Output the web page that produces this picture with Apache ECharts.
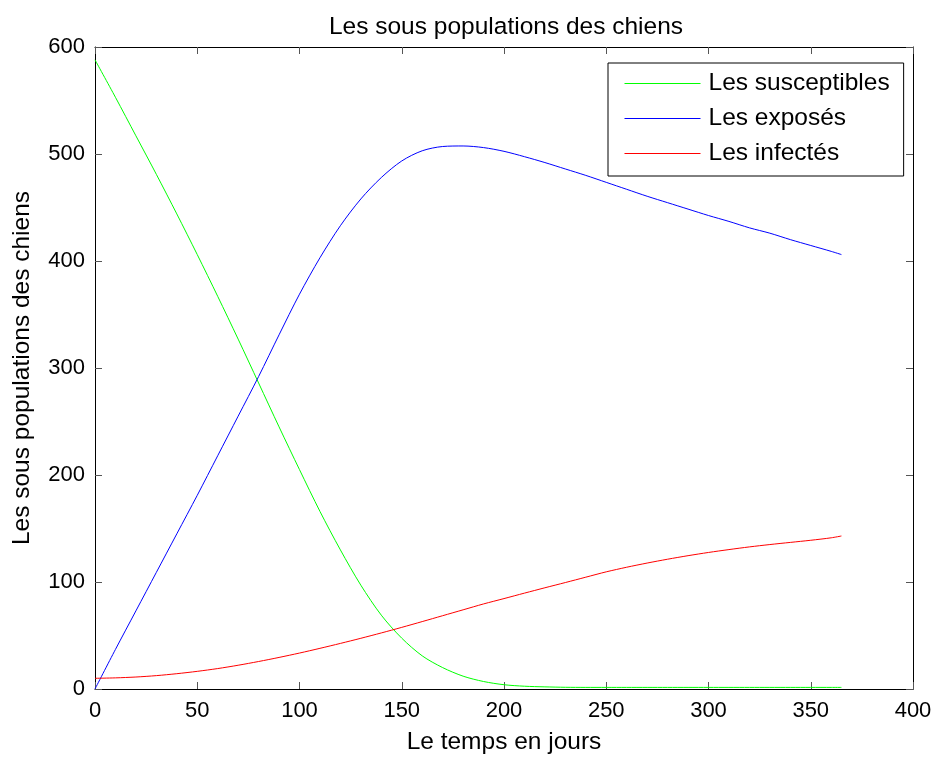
<!DOCTYPE html>
<html>
<head>
<meta charset="utf-8">
<script src="https://cdn.jsdelivr.net/npm/echarts@6/dist/echarts.min.js"></script>
<style>
  html, body { margin: 0; padding: 0; background: #fff; }
  #chart { width: 939px; height: 760px; }
</style>
</head>
<body>
<div id="chart"></div>
<script>
// Days sampled along the simulation (0 to 365)
const days = [0, 10, 20, 30, 40, 50, 60, 70, 80, 90, 100, 110, 120, 130, 140, 150, 160, 170, 180, 190, 200, 210, 220, 230, 240, 250, 260, 270, 280, 290, 300, 310, 320, 330, 340, 350, 360, 365];

// Susceptible dogs
const susceptibles = [588, 553, 517, 481, 444, 406, 367, 327, 286, 245, 205, 166, 130, 97, 69, 47.5, 31, 20, 12, 7, 4, 2.6, 2, 1.6, 1.5, 1.5, 1.5, 1.5, 1.5, 1.5, 1.5, 1.5, 1.5, 1.5, 1.5, 1.5, 1.5, 1.5];

// Exposed dogs
const exposes = [0, 37, 73, 109, 145, 181, 218, 255, 292, 331, 369, 403, 433, 458, 478, 493.5, 503, 507, 507.5, 506, 502.5, 497.5, 492, 486, 480, 473.5, 467, 460.5, 454.5, 448.5, 442.5, 437, 431, 426, 420, 414.5, 409, 406];

// Infected dogs
const infectes = [10, 10.4, 11.2, 12.5, 14.3, 16.5, 19.1, 22.2, 25.7, 29.5, 33.6, 38, 42.6, 47.4, 52.4, 57.6, 63, 68.5, 74, 79.5, 84.5, 89.6, 94.6, 99.5, 104.5, 109.5, 113.8, 117.7, 121.3, 124.6, 127.6, 130.3, 132.8, 135, 137, 139, 141.3, 143];

const xTicks = [0, 50, 100, 150, 200, 250, 300, 350, 400];
const yTicks = [0, 100, 200, 300, 400, 500, 600];

const seriesNames = ['Les susceptibles', 'Les exposés', 'Les infectés'];
const seriesColors = ['#00ff00', '#0000ff', '#ff0000'];

const FONT = 'Liberation Sans, Arial, Helvetica, sans-serif';
const TEXT_SIZE = 24.5;
const TICK_SIZE = 22;

function pairs(values) {
  return days.map((d, i) => [d, values[i]]);
}

const chart = echarts.init(document.getElementById('chart'), null, { renderer: 'canvas' });

const tickStyle = { show: true, inside: true, length: 7, lineStyle: { color: '#555', width: 1 } };
const lineStyleAxis = { show: true, onZero: false, lineStyle: { color: '#000', width: 1 } };

chart.setOption({
  backgroundColor: '#ffffff',
  animation: false,
  color: seriesColors,
  title: {
    text: 'Les sous populations des chiens',
    left: 501,
    textAlign: 'center',
    top: 10,
    textStyle: { fontFamily: FONT, fontSize: TEXT_SIZE, fontWeight: 'normal', color: '#000' }
  },
  grid: { left: 95, top: 47, right: 26, bottom: 68, containLabel: false },
  legend: {
    data: seriesNames,
    orient: 'vertical',
    left: 608,
    top: 63,
    padding: [8, 14, 10, 16],
    itemWidth: 76,
    itemHeight: 25,
    itemGap: 10,
    // only the line sample is shown for each entry, no marker
    itemStyle: { opacity: 0 },
    lineStyle: { width: 1 },
    borderColor: '#000',
    borderWidth: 1,
    backgroundColor: '#fff',
    textStyle: { fontFamily: FONT, fontSize: TEXT_SIZE, lineHeight: 25, color: '#000', padding: [0, 0, 0, 3] }
  },
  xAxis: [
    {
      type: 'value',
      min: xTicks[0],
      max: xTicks[xTicks.length - 1],
      interval: xTicks[1] - xTicks[0],
      position: 'bottom',
      name: 'Le temps en jours',
      nameLocation: 'middle',
      nameGap: 41,
      nameTextStyle: { fontFamily: FONT, fontSize: TEXT_SIZE, color: '#000' },
      axisLine: lineStyleAxis,
      axisTick: tickStyle,
      axisLabel: { fontFamily: FONT, fontSize: TICK_SIZE, color: '#000', margin: 11 },
      splitLine: { show: false }
    },
    {
      type: 'value',
      min: xTicks[0],
      max: xTicks[xTicks.length - 1],
      interval: xTicks[1] - xTicks[0],
      position: 'top',
      axisLine: lineStyleAxis,
      axisTick: tickStyle,
      axisLabel: { show: false },
      splitLine: { show: false }
    }
  ],
  yAxis: [
    {
      type: 'value',
      min: yTicks[0],
      max: yTicks[yTicks.length - 1],
      interval: yTicks[1] - yTicks[0],
      position: 'left',
      name: 'Les sous populations des chiens',
      nameLocation: 'middle',
      nameGap: 60,
      nameTextStyle: { fontFamily: FONT, fontSize: TEXT_SIZE, color: '#000' },
      axisLine: lineStyleAxis,
      axisTick: tickStyle,
      axisLabel: { fontFamily: FONT, fontSize: TICK_SIZE, color: '#000', margin: 10 },
      splitLine: { show: false }
    },
    {
      type: 'value',
      min: yTicks[0],
      max: yTicks[yTicks.length - 1],
      interval: yTicks[1] - yTicks[0],
      position: 'right',
      axisLine: lineStyleAxis,
      axisTick: tickStyle,
      axisLabel: { show: false },
      splitLine: { show: false }
    }
  ],
  series: [susceptibles, exposes, infectes].map((vals, i) => ({
    name: seriesNames[i],
    type: 'line',
    xAxisIndex: 0,
    yAxisIndex: 0,
    data: pairs(vals),
    smooth: 0.3,
    symbol: 'none',
    color: seriesColors[i],
    lineStyle: { color: seriesColors[i], width: 1 },
    itemStyle: { color: seriesColors[i] }
  }))
});
</script>
</body>
</html>
